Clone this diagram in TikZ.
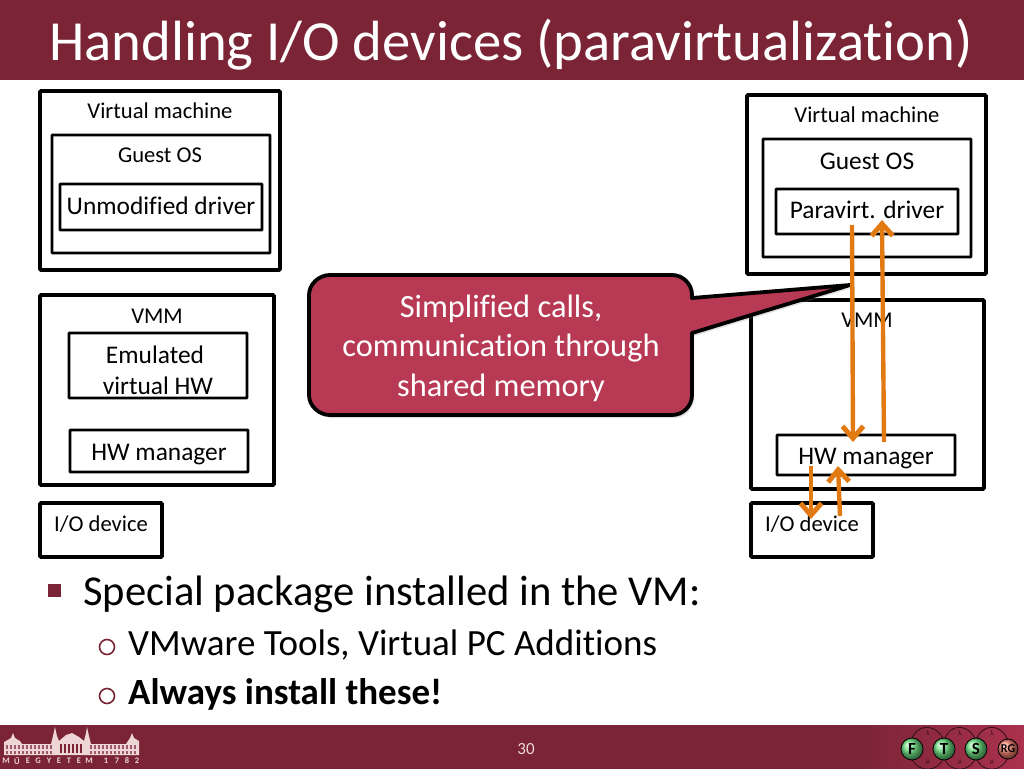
\documentclass[tikz,border=0pt]{standalone}
\usepackage{fontspec}
\setmainfont[Ligatures=NoCommon]{Carlito}
\usetikzlibrary{arrows.meta,shadows}
\definecolor{barred}{RGB}{122,36,54}
\definecolor{barlight}{RGB}{172,50,78}
\definecolor{callred}{RGB}{184,57,84}
\definecolor{flow}{RGB}{226,122,20}
\definecolor{logopink}{RGB}{238,214,214}
\definecolor{fsmgreen}{RGB}{110,225,130}
\definecolor{fsmred}{RGB}{240,130,110}
\tikzset{
  box/.style={draw=black,line width=3.6pt,rounded corners=1pt},
  smallbox/.style={draw=black,line width=2.8pt,rounded corners=.5pt},
  lbl/.style={inner sep=0pt,font=\fontsize{22.6}{26}\selectfont,align=center},
  biglbl/.style={lbl,font=\fontsize{25.4}{30}\selectfont},
  flowarrow/.style={draw=flow,line width=4.4pt,-{Straight Barb[length=12pt,width=21pt,line width=5pt]}},
  fsmcircle/.style={circle,draw=black,line width=.8pt,shading=ball,ball color=fsmgreen,minimum size=22pt,inner sep=0pt,font=\bfseries\fontsize{17}{17}\selectfont},
  fsmarc/.style={draw=black!60!barred,line width=.8pt},
  fsmtext/.style={inner sep=0pt,text=black!60!barred,font=\fontsize{7}{7}\selectfont},
  subdot/.style={circle,draw=barred,line width=1.6pt,minimum size=15pt,inner sep=0pt}
}
\begin{document}
\begin{tikzpicture}[x=1pt,y=-1pt]
\useasboundingbox (0,0) rectangle (1024,768);
\fill[barred] (-2,-2) rectangle (1026,80);
\fill[barred] (-2,725) rectangle (862,770);
\shade[left color=barred,right color=barlight] (860,725) rectangle (1026,770);
\node[inner sep=0pt,text=white,font=\fontsize{56.7}{60}\selectfont] (title) at (511,45) {Handling I/O devices (paravirtualization)};

% left side
\draw[box] (40,91) rectangle (280,270);
\node[lbl] (vml) at (160,111) {Virtual machine};
\draw[smallbox] (52,135) rectangle (270,253);
\node[lbl] (guestl) at (160,155) {Guest OS};
\draw[smallbox] (60,184) rectangle (262,230);
\node[biglbl] (drvl) at (161,206) {Unmodified driver};
\draw[box] (40,295) rectangle (274,485);
\node[lbl] (vmml) at (157,316) {VMM};
\draw[smallbox] (69,333) rectangle (247,398);
\node[biglbl] (emul) at (155,355) {Emulated};
\node[biglbl] (emulb) at (158,386) {virtual HW};
\draw[smallbox] (70,430) rectangle (248,472);
\node[biglbl] (hwl) at (159,455) {HW manager};
\draw[box] (40,503) rectangle (162,557);
\node[lbl] (iol) at (101,524) {I/O device};

% right side
\draw[box] (747,95) rectangle (986,274);
\node[lbl] (vmr) at (867,115) {Virtual machine};
\draw[smallbox] (763,139) rectangle (971,257);
\node[biglbl] (guestr) at (867,161) {Guest OS};
\draw[smallbox] (776,189) rectangle (958,234);
\node[biglbl] (drvr) at (867,210) {Paravirt. driver};
\draw[box] (751,300) rectangle (984,489);
\node[lbl] (vmmr) at (867,320) {VMM};
\draw[smallbox] (777,435) rectangle (955,475);
\node[biglbl] (hwr) at (866,459) {HW manager};
\draw[box] (751,503) rectangle (873,557);
\node[lbl] (ior) at (812,524) {I/O device};

% callout
\draw[fill=callred,draw=black,line width=3.8pt,line join=round,
  drop shadow={shadow xshift=2pt,shadow yshift=-3pt,opacity=.25}]
  (330,275) -- (672,275) .. controls (683,275) and (692,284) .. (692,295) -- (692,298) -- (850,285) -- (692,333)
  -- (692,395) .. controls (692,406) and (683,415) .. (672,415) -- (330,415) .. controls (319,415) and (309,406) .. (309,395)
  -- (309,295) .. controls (309,284) and (319,275) .. (330,275) -- cycle;
\node[inner sep=0pt,text=white,align=center,font=\fontsize{32.4}{39.5}\selectfont] (call) at (501,348) {Simplified calls,\\ communication through\\ shared memory};

% arrows
\coordinate (downa) at (852,225);
\coordinate (downb) at (853,442);
\coordinate (upa) at (884,442);
\coordinate (upb) at (882,220);
\coordinate (ioa) at (811,466);
\coordinate (iob) at (811,519);
\coordinate (ioc) at (840,516);
\coordinate (iod) at (838,466);
\draw[flowarrow] (downa) -- (downb);
\draw[flowarrow] (upa) -- (upb);
\draw[flowarrow] (ioa) -- (iob);
\draw[flowarrow] (ioc) -- (iod);

% bullets
\fill[barred] (48,584) rectangle (61,597);
\node[anchor=west,inner sep=0pt,font=\fontsize{42.6}{46}\selectfont] (b1) at (83,594) {Special package installed in the VM:};
\node[subdot] (o1) at (107,647) {};
\node[anchor=west,inner sep=0pt,font=\fontsize{37}{40}\selectfont] (b2) at (128,645) {VMware Tools, Virtual PC Additions};
\node[subdot] (o2) at (107,696) {};
\node[anchor=west,inner sep=0pt,font=\bfseries\fontsize{37}{40}\selectfont] (b3) at (128,694) {Always install these!};

% footer
\node[inner sep=0pt,text=logopink,font=\fontsize{17}{20}\selectfont] (page) at (526,749) {30};
\fill[logopink] (4,755) -- (4,742) -- (6,741) -- (11,738) -- (13,733) -- (15,738) -- (20,741) -- (22,744) -- (51,744) -- (53,736) -- (55,727) -- (57,736) -- (59,741) -- (66,735) -- (72,733) -- (79,737) -- (84,741) -- (86,733) -- (87,727) -- (89,736) -- (91,744) -- (126,744) -- (128,741) -- (130,738) -- (132,733) -- (134,738) -- (139,741) -- (139,755) -- cycle;
\foreach \x in {6,10,14,18,...,50,90,94,...,134} {
  \fill[barred!70!logopink] (\x,745) rectangle (\x+2,749);
  \fill[barred!70!logopink] (\x,751) rectangle (\x+2,754);
}
\foreach \x in {60,64,...,80} \fill[barred] (\x,744) rectangle (\x+2,753);
\foreach \x/\c in {6/M,17/Ű,28/E,38/G,49/Y,59/E,69/T,79/E,89/M,106/1,117/7,127/8,137/2}
  \node[inner sep=0pt,text=logopink,font=\bfseries\fontsize{8.5}{8.5}\selectfont] (logo\x) at (\x,761) {\c};

\draw[fsmarc,-{Stealth[length=3pt]}] (911,741) .. controls (916,723) and (936,723) .. (944,741);
\draw[fsmarc,-{Stealth[length=3pt]}] (944,741) .. controls (949,723) and (968,723) .. (976,741);
\draw[fsmarc,-{Stealth[length=3pt]}] (976,741) .. controls (981,723) and (1001,723) .. (1008,741);
\draw[fsmarc,-{Stealth[length=3pt]}] (944,757) .. controls (938,773) and (918,773) .. (911,757);
\draw[fsmarc,-{Stealth[length=3pt]}] (976,757) .. controls (970,773) and (950,773) .. (944,757);
\draw[fsmarc,-{Stealth[length=3pt]}] (1008,757) .. controls (1002,773) and (982,773) .. (976,757);
\node[fsmcircle] (f) at (912,749) {F};
\node[fsmcircle] (t) at (944,749) {T};
\node[fsmcircle] (s) at (976,749) {S};
\node[fsmcircle,ball color=fsmred,minimum size=20pt,font=\bfseries\fontsize{12}{12}\selectfont] (rg) at (1008,749) {RG};
\foreach \x in {928,960,992} {
  \node[fsmtext] (la\x) at (\x,733) {λ};
  \node[fsmtext] (mu\x) at (\x,762) {μ};
}
\end{tikzpicture}
\end{document}
